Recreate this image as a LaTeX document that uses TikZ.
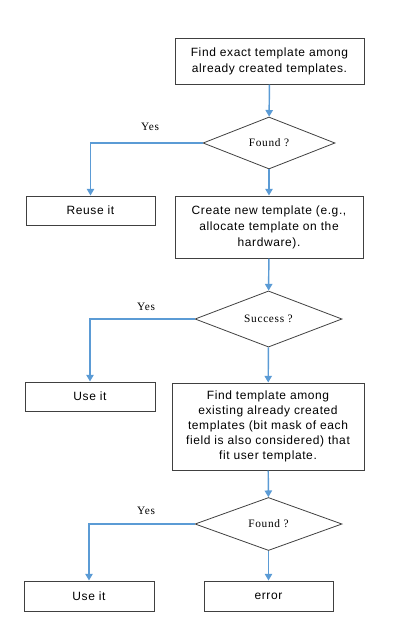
\documentclass[tikz,border=0pt]{standalone}
\usepackage{fontspec}
\setmainfont{Liberation Serif}
\newfontfamily\boxfont[LetterSpace=5]{Liberation Sans}
\newfontfamily\diafont[LetterSpace=6]{Liberation Serif}
\usetikzlibrary{shapes.geometric,arrows.meta}
\definecolor{linec}{HTML}{5B9BD5}
\definecolor{boxc}{HTML}{404040}
\tikzset{
  pbox/.style={draw=boxc, line width=0.75pt, inner sep=0pt, align=center,
    font=\boxfont\fontsize{9}{12}\selectfont},
  dia/.style={diamond, draw=boxc, line width=0.6pt, inner sep=0pt,
    font=\diafont\fontsize{8.5}{10}\selectfont},
  flow/.style={draw=linec, line width=1.1pt, -{Triangle[width=5.5pt,length=5pt]}},
  yes/.style={font=\diafont\fontsize{8.5}{10}\selectfont, inner sep=0pt}
}
\begin{document}
\begin{tikzpicture}[x=0.75pt,y=-0.75pt]
\useasboundingbox (0,0) rectangle (412,640);
\node[pbox, minimum width=141.75pt, minimum height=34.5pt] (b1) at (269.5,61)
  {Find exact template among\\already created templates.};
\node[dia, minimum width=99pt, minimum height=39pt] (d1) at (269,143) {Found ?};
\node[pbox, minimum width=96.75pt, minimum height=21.75pt] (r1) at (90.5,210.5) {Reuse it};
\node[pbox, minimum width=141pt, minimum height=46.5pt] (b2) at (269,227)
  {Create new template (e.g.,\\allocate template on the\\hardware).};
\node[dia, minimum width=110.25pt, minimum height=39.75pt] (d2) at (268.5,319) {Success ?};
\node[pbox, minimum width=97.5pt, minimum height=21.75pt] (u1) at (90,396.5) {Use it};
\node[pbox, minimum width=144pt, minimum height=65.25pt, font=\boxfont\fontsize{9}{11.3}\selectfont] (b3) at (268,426.5)
  {Find template among\\existing already created\\templates (bit mask of each\\field is also considered) that\\fit user template.};
\node[dia, minimum width=110.25pt, minimum height=39.75pt] (d3) at (268.5,524) {Found ?};
\node[pbox, minimum width=97.5pt, minimum height=22.5pt] (u2) at (89,596) {Use it};
\node[pbox, minimum width=96.75pt, minimum height=22.5pt] (e1) at (268.5,596) {error};

\node[yes] (y1) at (150,127) {Yes};
\node[yes] (y2) at (146,307) {Yes};
\node[yes] (y3) at (146,511) {Yes};

\draw[flow] (b1) -- (d1);
\draw[flow] (d1.west) -| (r1.north);
\draw[flow] (d1) -- (b2);
\draw[flow] (b2) -- (d2);
\draw[flow] (d2.west) -| (u1.north);
\draw[flow] (d2) -- (b3);
\draw[flow] (b3) -- (d3);
\draw[flow] (d3.west) -| (u2.north);
\draw[flow] (d3) -- (e1);
\end{tikzpicture}
\end{document}
